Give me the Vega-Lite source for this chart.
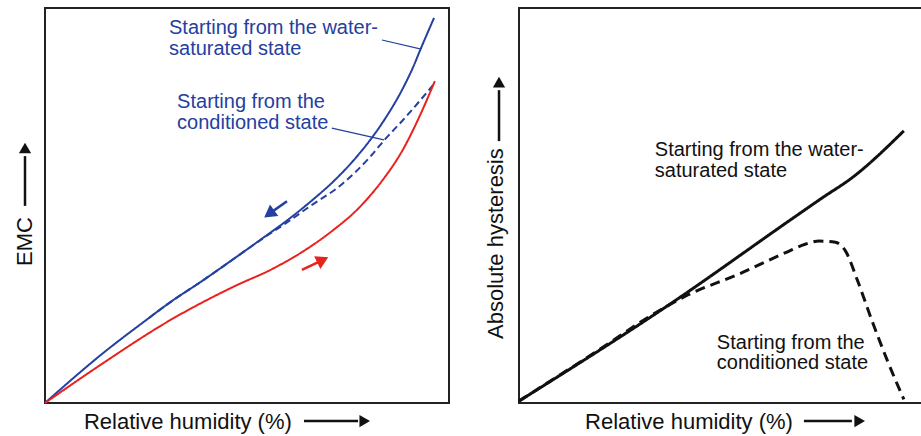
{
  "$schema": "https://vega.github.io/schema/vega-lite/v6.json",
  "padding": {"left": 13, "top": 7, "right": 0, "bottom": 0},
  "autosize": {"type": "pad"},
  "bounds": "flush",
  "spacing": 70,
  "background": "white",
  "config": {"view": {"stroke": "#222222", "strokeWidth": 2}},
  "resolve": {"scale": {"color": "independent", "strokeDash": "independent"}},
  "datasets": {
    "leftCurves": [
      {"series": "water-saturated", "rh": 0, "emc": 0},
      {"series": "water-saturated", "rh": 14.1, "emc": 12.4},
      {"series": "water-saturated", "rh": 25.7, "emc": 21.5},
      {"series": "water-saturated", "rh": 30.7, "emc": 25.3},
      {"series": "water-saturated", "rh": 38.9, "emc": 30.9},
      {"series": "water-saturated", "rh": 47.0, "emc": 36.7},
      {"series": "water-saturated", "rh": 53.7, "emc": 41.6},
      {"series": "water-saturated", "rh": 60.4, "emc": 46.6},
      {"series": "water-saturated", "rh": 66.1, "emc": 51.3},
      {"series": "water-saturated", "rh": 71.8, "emc": 56.5},
      {"series": "water-saturated", "rh": 76.0, "emc": 61.0},
      {"series": "water-saturated", "rh": 80.2, "emc": 66.2},
      {"series": "water-saturated", "rh": 84.2, "emc": 72.0},
      {"series": "water-saturated", "rh": 88.4, "emc": 79.3},
      {"series": "water-saturated", "rh": 90.8, "emc": 84.3},
      {"series": "water-saturated", "rh": 93.3, "emc": 90.4},
      {"series": "water-saturated", "rh": 96.3, "emc": 97.5},
      {"series": "conditioned", "rh": 25.7, "emc": 21.5},
      {"series": "conditioned", "rh": 30.7, "emc": 25.3},
      {"series": "conditioned", "rh": 38.9, "emc": 30.9},
      {"series": "conditioned", "rh": 47.0, "emc": 36.7},
      {"series": "conditioned", "rh": 53.7, "emc": 41.5},
      {"series": "conditioned", "rh": 59.9, "emc": 45.7},
      {"series": "conditioned", "rh": 65.3, "emc": 49.6},
      {"series": "conditioned", "rh": 73.5, "emc": 55.4},
      {"series": "conditioned", "rh": 80.2, "emc": 62.0},
      {"series": "conditioned", "rh": 84.2, "emc": 66.8},
      {"series": "conditioned", "rh": 88.4, "emc": 71.4},
      {"series": "conditioned", "rh": 92.1, "emc": 75.7},
      {"series": "conditioned", "rh": 96.3, "emc": 80.8},
      {"series": "adsorption", "rh": 0, "emc": 0},
      {"series": "adsorption", "rh": 14.1, "emc": 9.9},
      {"series": "adsorption", "rh": 30.7, "emc": 20.8},
      {"series": "adsorption", "rh": 47.0, "emc": 29.6},
      {"series": "adsorption", "rh": 56.2, "emc": 33.9},
      {"series": "adsorption", "rh": 63.6, "emc": 38.2},
      {"series": "adsorption", "rh": 71.0, "emc": 43.5},
      {"series": "adsorption", "rh": 77.7, "emc": 49.4},
      {"series": "adsorption", "rh": 83.4, "emc": 56.2},
      {"series": "adsorption", "rh": 88.4, "emc": 63.8},
      {"series": "adsorption", "rh": 93.3, "emc": 73.9},
      {"series": "adsorption", "rh": 96.5, "emc": 81.5}
    ],
    "leftLeaders": [
      {"series": "water-saturated", "rh": 83.4, "emc": 91.9, "rh2": 93.1, "emc2": 89.6},
      {"series": "conditioned", "rh": 71.0, "emc": 69.6, "rh2": 83.9, "emc2": 66.6}
    ],
    "leftArrows": [
      {"series": "water-saturated", "rh": 59.9, "emc": 51.1, "rh2": 55.9, "emc2": 48.2},
      {"series": "adsorption", "rh": 63.6, "emc": 33.7, "rh2": 68.3, "emc2": 36.0},
      {"series": "axis", "rh": -4.95, "emc": 49.9, "rh2": -4.95, "emc2": 62.5},
      {"series": "axis", "rh": 64.1, "emc": -4.56, "rh2": 77.5, "emc2": -4.56}
    ],
    "leftHeads": [
      {"series": "water-saturated", "rh": 55.9, "emc": 48.2, "dir": 234},
      {"series": "adsorption", "rh": 68.3, "emc": 36.0, "dir": 64},
      {"series": "axis", "rh": -4.95, "emc": 64.1, "dir": 0},
      {"series": "axis", "rh": 78.7, "emc": -4.56, "dir": 90}
    ],
    "leftNotes": [
      {"series": "water-saturated", "label": "Starting from the water-", "rh": 30.7, "emc": 93.3},
      {"series": "water-saturated", "label": "saturated state", "rh": 30.7, "emc": 88.0},
      {"series": "conditioned", "label": "Starting from the", "rh": 32.7, "emc": 74.6},
      {"series": "conditioned", "label": "conditioned state", "rh": 32.7, "emc": 69.3}
    ],
    "rightCurves": [
      {"series": "water-saturated", "rh": 0, "hys": 0.5},
      {"series": "water-saturated", "rh": 38.0, "hys": 25.4},
      {"series": "water-saturated", "rh": 67.7, "hys": 46.6},
      {"series": "water-saturated", "rh": 75.2, "hys": 51.9},
      {"series": "water-saturated", "rh": 82.6, "hys": 57.0},
      {"series": "water-saturated", "rh": 95.5, "hys": 68.9},
      {"series": "conditioned", "rh": 0, "hys": 0.5},
      {"series": "conditioned", "rh": 19.0, "hys": 12.9},
      {"series": "conditioned", "rh": 34.0, "hys": 22.9},
      {"series": "conditioned", "rh": 42.0, "hys": 27.4},
      {"series": "conditioned", "rh": 54.5, "hys": 32.6},
      {"series": "conditioned", "rh": 66.0, "hys": 38.0},
      {"series": "conditioned", "rh": 71.0, "hys": 40.2},
      {"series": "conditioned", "rh": 74.5, "hys": 41.0},
      {"series": "conditioned", "rh": 78.5, "hys": 40.7},
      {"series": "conditioned", "rh": 81.0, "hys": 38.5},
      {"series": "conditioned", "rh": 84.0, "hys": 31.0},
      {"series": "conditioned", "rh": 87.6, "hys": 20.8},
      {"series": "conditioned", "rh": 91.5, "hys": 10.5},
      {"series": "conditioned", "rh": 95.5, "hys": 0.9}
    ],
    "rightNotes": [
      {"label": "Starting from the water-", "rh": 33.7, "hys": 62.5},
      {"label": "saturated state", "rh": 33.7, "hys": 57.3},
      {"label": "Starting from the", "rh": 49.1, "hys": 13.7},
      {"label": "conditioned state", "rh": 49.1, "hys": 8.5}
    ],
    "rightArrows": [
      {"rh": -4.96, "hys": 66.3, "rh2": -4.96, "hys2": 79.2},
      {"rh": 70.7, "hys": -4.56, "rh2": 82.6, "hys2": -4.56}
    ],
    "rightHeads": [
      {"rh": -4.96, "hys": 80.8, "dir": 0},
      {"rh": 84.1, "hys": -4.56, "dir": 90}
    ]
  },
  "hconcat": [
    {
      "width": 404,
      "height": 395,
      "layer": [
        {
          "data": {"name": "leftCurves"},
          "mark": {"type": "line", "strokeWidth": 2, "interpolate": "monotone"},
          "encoding": {
            "x": {"field": "rh", "type": "quantitative", "scale": {"domain": [0, 100], "nice": false, "zero": false}, "axis": null},
            "y": {"field": "emc", "type": "quantitative", "scale": {"domain": [0, 100], "nice": false, "zero": false}, "axis": null},
            "color": {"field": "series", "type": "nominal", "scale": {"domain": ["water-saturated", "conditioned", "adsorption", "axis"], "range": ["#2440a0", "#2440a0", "#e8221c", "#111111"]}, "legend": null},
            "strokeDash": {"field": "series", "type": "nominal", "scale": {"domain": ["water-saturated", "conditioned", "adsorption"], "range": [[1, 0], [7, 4], [1, 0]]}, "legend": null}
          }
        },
        {
          "data": {"name": "leftLeaders"},
          "mark": {"type": "rule", "strokeWidth": 1.2},
          "encoding": {
            "x": {"field": "rh", "type": "quantitative"},
            "y": {"field": "emc", "type": "quantitative"},
            "x2": {"field": "rh2"},
            "y2": {"field": "emc2"},
            "color": {"field": "series", "type": "nominal", "legend": null}
          }
        },
        {
          "data": {"name": "leftArrows"},
          "mark": {"type": "rule", "strokeWidth": 2.5},
          "encoding": {
            "x": {"field": "rh", "type": "quantitative"},
            "y": {"field": "emc", "type": "quantitative"},
            "x2": {"field": "rh2"},
            "y2": {"field": "emc2"},
            "color": {"field": "series", "type": "nominal", "legend": null}
          }
        },
        {
          "data": {"name": "leftHeads"},
          "transform": [{"filter": "datum.series != 'axis'"}],
          "mark": {"type": "point", "shape": "triangle", "filled": true, "size": 200, "opacity": 1},
          "encoding": {
            "x": {"field": "rh", "type": "quantitative"},
            "y": {"field": "emc", "type": "quantitative"},
            "angle": {"field": "dir", "type": "quantitative", "scale": null},
            "color": {"field": "series", "type": "nominal", "legend": null}
          }
        },
        {
          "data": {"name": "leftHeads"},
          "transform": [{"filter": "datum.series == 'axis'"}],
          "mark": {"type": "point", "shape": "triangle", "filled": true, "size": 150, "opacity": 1},
          "encoding": {
            "x": {"field": "rh", "type": "quantitative"},
            "y": {"field": "emc", "type": "quantitative"},
            "angle": {"field": "dir", "type": "quantitative", "scale": null},
            "color": {"field": "series", "type": "nominal", "legend": null}
          }
        },
        {
          "data": {"name": "leftNotes"},
          "mark": {"type": "text", "align": "left", "baseline": "alphabetic", "font": "Liberation Sans", "fontSize": 20},
          "encoding": {
            "x": {"field": "rh", "type": "quantitative"},
            "y": {"field": "emc", "type": "quantitative"},
            "text": {"field": "label"},
            "color": {"field": "series", "type": "nominal", "legend": null}
          }
        },
        {
          "data": {"values": [{"label": "Relative humidity (%)", "rh": 9.65, "emc": -6.6}]},
          "mark": {"type": "text", "align": "left", "baseline": "alphabetic", "font": "Liberation Sans", "fontSize": 22, "color": "#111111"},
          "encoding": {
            "x": {"field": "rh", "type": "quantitative"},
            "y": {"field": "emc", "type": "quantitative"},
            "text": {"field": "label"}
          }
        },
        {
          "data": {"values": [{"label": "EMC", "rh": -3.2, "emc": 34.7}]},
          "mark": {"type": "text", "align": "left", "baseline": "alphabetic", "angle": 270, "font": "Liberation Sans", "fontSize": 22, "color": "#111111"},
          "encoding": {
            "x": {"field": "rh", "type": "quantitative"},
            "y": {"field": "emc", "type": "quantitative"},
            "text": {"field": "label"}
          }
        }
      ]
    },
    {
      "width": 403,
      "height": 395,
      "layer": [
        {
          "data": {"name": "rightCurves"},
          "mark": {"type": "line", "strokeWidth": 3, "interpolate": "monotone", "color": "#111111"},
          "encoding": {
            "x": {"field": "rh", "type": "quantitative", "scale": {"domain": [0, 100], "nice": false, "zero": false}, "axis": null},
            "y": {"field": "hys", "type": "quantitative", "scale": {"domain": [0, 100], "nice": false, "zero": false}, "axis": null},
            "strokeDash": {"field": "series", "type": "nominal", "scale": {"domain": ["water-saturated", "conditioned"], "range": [[1, 0], [10, 6]]}, "legend": null}
          }
        },
        {
          "data": {"name": "rightArrows"},
          "mark": {"type": "rule", "strokeWidth": 2.5, "color": "#111111"},
          "encoding": {
            "x": {"field": "rh", "type": "quantitative"},
            "y": {"field": "hys", "type": "quantitative"},
            "x2": {"field": "rh2"},
            "y2": {"field": "hys2"}
          }
        },
        {
          "data": {"name": "rightHeads"},
          "mark": {"type": "point", "shape": "triangle", "filled": true, "size": 150, "opacity": 1, "color": "#111111"},
          "encoding": {
            "x": {"field": "rh", "type": "quantitative"},
            "y": {"field": "hys", "type": "quantitative"},
            "angle": {"field": "dir", "type": "quantitative", "scale": null}
          }
        },
        {
          "data": {"name": "rightNotes"},
          "mark": {"type": "text", "align": "left", "baseline": "alphabetic", "font": "Liberation Sans", "fontSize": 20, "color": "#111111"},
          "encoding": {
            "x": {"field": "rh", "type": "quantitative"},
            "y": {"field": "hys", "type": "quantitative"},
            "text": {"field": "label"}
          }
        },
        {
          "data": {"values": [{"label": "Relative humidity (%)", "rh": 16.4, "hys": -6.6}]},
          "mark": {"type": "text", "align": "left", "baseline": "alphabetic", "font": "Liberation Sans", "fontSize": 22, "color": "#111111"},
          "encoding": {
            "x": {"field": "rh", "type": "quantitative"},
            "y": {"field": "hys", "type": "quantitative"},
            "text": {"field": "label"}
          }
        },
        {
          "data": {"values": [{"label": "Absolute hysteresis", "rh": -3.97, "hys": 16.2}]},
          "mark": {"type": "text", "align": "left", "baseline": "alphabetic", "angle": 270, "font": "Liberation Sans", "fontSize": 22, "color": "#111111"},
          "encoding": {
            "x": {"field": "rh", "type": "quantitative"},
            "y": {"field": "hys", "type": "quantitative"},
            "text": {"field": "label"}
          }
        }
      ]
    }
  ]
}
